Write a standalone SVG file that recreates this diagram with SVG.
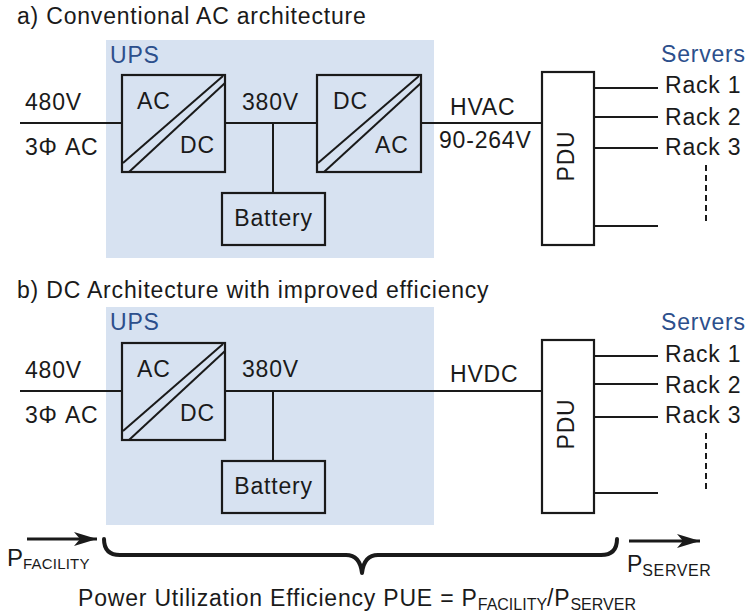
<svg xmlns="http://www.w3.org/2000/svg" width="747" height="613" viewBox="0 0 747 613">
<style>
.t{font-family:"Liberation Sans",Arial,sans-serif;font-size:23px;letter-spacing:0.8px;fill:#1a1a1a}
.blue{fill:#2c4f8c}
.sub{font-size:16px;letter-spacing:0px}
.ln{stroke:#1a1a1a;stroke-width:2;fill:none}
.box{fill:none;stroke:#1a1a1a;stroke-width:2.2}
.wbox{fill:#fff;stroke:#1a1a1a;stroke-width:2.2}
.ups{fill:#d7e2f1}
.dash{stroke:#1a1a1a;stroke-width:2;stroke-dasharray:6 4;fill:none}
.arr{stroke:#1a1a1a;stroke-width:3;fill:none}
.brace{stroke:#1a1a1a;stroke-width:4;fill:none;stroke-linecap:round;stroke-linejoin:round}
</style>
<defs>
<marker id="ah" markerUnits="userSpaceOnUse" markerWidth="26" markerHeight="16" refX="23" refY="7" orient="auto">
<path d="M0,0 L23,7 L0,14 L6,7 z" fill="#1a1a1a"/>
</marker>
</defs>

<text id="title-a" class="t" x="17" y="24">a) Conventional AC architecture</text>

<g id="section-a">
<g id="ups-a"><rect class="ups" x="106" y="40" width="328" height="218"/><text class="t blue" x="110" y="63">UPS</text></g>
<g id="conn-a">
<line class="ln" x1="20" y1="123" x2="122" y2="123"/>
<line class="ln" x1="225" y1="123" x2="317" y2="123"/>
<line class="ln" x1="273" y1="123" x2="273" y2="193"/>
<line class="ln" x1="421" y1="123" x2="542" y2="123"/>
<line class="ln" x1="594" y1="88" x2="658" y2="88"/>
<line class="ln" x1="594" y1="117" x2="658" y2="117"/>
<line class="ln" x1="594" y1="148" x2="658" y2="148"/>
<line class="ln" x1="594" y1="226" x2="658" y2="226"/>
<line class="dash" x1="706" y1="165" x2="706" y2="225"/>
</g>
<g id="acdc-a"><rect class="box" x="122" y="75" width="103" height="97"/>
<line class="ln" x1="123" y1="163" x2="223" y2="76"/><line class="ln" x1="129" y1="172" x2="225" y2="83"/>
<text class="t" x="137" y="109">AC</text><text class="t" x="180" y="153">DC</text></g>
<g id="dcac-a"><rect class="box" x="317" y="75" width="104" height="97"/>
<line class="ln" x1="318" y1="163" x2="419" y2="76"/><line class="ln" x1="324" y1="172" x2="421" y2="83"/>
<text class="t" x="333" y="109">DC</text><text class="t" x="375" y="153">AC</text></g>
<g id="battery-a"><rect class="box" x="222" y="193" width="103" height="52"/><text class="t" x="273.5" y="226" text-anchor="middle">Battery</text></g>
<g id="pdu-a"><rect class="wbox" x="542" y="72" width="52" height="173"/><text class="t" transform="translate(574,156) rotate(-90)" text-anchor="middle">PDU</text></g>
<g id="labels-a">
<text class="t" x="25" y="110">480V</text>
<text class="t" x="25" y="155">3Φ AC</text>
<text class="t" x="242" y="110">380V</text>
<text class="t" x="450" y="115">HVAC</text>
<text class="t" x="439" y="148">90-264V</text>
</g>
<g id="servers-a">
<text class="t blue" x="661" y="62">Servers</text>
<text class="t" x="665" y="93">Rack 1</text>
<text class="t" x="665" y="125">Rack 2</text>
<text class="t" x="665" y="155">Rack 3</text>
</g>
</g>

<text id="title-b" class="t" x="17" y="298">b) DC Architecture with improved efficiency</text>

<g id="section-b">
<g id="ups-b"><rect class="ups" x="106" y="307" width="328" height="218"/><text class="t blue" x="110" y="330">UPS</text></g>
<g id="conn-b">
<line class="ln" x1="20" y1="391" x2="122" y2="391"/>
<line class="ln" x1="225" y1="391" x2="542" y2="391"/>
<line class="ln" x1="273" y1="391" x2="273" y2="461"/>
<line class="ln" x1="594" y1="356" x2="658" y2="356"/>
<line class="ln" x1="594" y1="384" x2="658" y2="384"/>
<line class="ln" x1="594" y1="417" x2="658" y2="417"/>
<line class="ln" x1="594" y1="493" x2="658" y2="493"/>
<line class="dash" x1="706" y1="433" x2="706" y2="493"/>
</g>
<g id="acdc-b"><rect class="box" x="122" y="343" width="103" height="97"/>
<line class="ln" x1="123" y1="431" x2="223" y2="344"/><line class="ln" x1="129" y1="440" x2="225" y2="351"/>
<text class="t" x="137" y="377">AC</text><text class="t" x="180" y="421">DC</text></g>
<g id="battery-b"><rect class="box" x="222" y="461" width="103" height="52"/><text class="t" x="273.5" y="494" text-anchor="middle">Battery</text></g>
<g id="pdu-b"><rect class="wbox" x="542" y="340" width="52" height="173"/><text class="t" transform="translate(574,424) rotate(-90)" text-anchor="middle">PDU</text></g>
<g id="labels-b">
<text class="t" x="25" y="378">480V</text>
<text class="t" x="25" y="423">3Φ AC</text>
<text class="t" x="242" y="377">380V</text>
<text class="t" x="450" y="382">HVDC</text>
</g>
<g id="servers-b">
<text class="t blue" x="661" y="330">Servers</text>
<text class="t" x="665" y="362">Rack 1</text>
<text class="t" x="665" y="393">Rack 2</text>
<text class="t" x="665" y="423">Rack 3</text>
</g>
</g>

<g id="pue">
<line class="arr" x1="27" y1="539" x2="97" y2="539" marker-end="url(#ah)"/>
<line class="arr" x1="629" y1="541" x2="700" y2="541" marker-end="url(#ah)"/>
<path class="brace" d="M104,539 Q104,555 120,555 L346,555 Q360,555 362,573 Q364,555 378,555 L601,555 Q617,555 617,539"/>
<text class="t" x="7" y="566" style="font-size:24px;letter-spacing:0">P<tspan style="font-size:15px;letter-spacing:0.2px" dy="3">FACILITY</tspan></text>
<text class="t" x="627" y="572" style="font-size:23px;letter-spacing:0">P<tspan style="font-size:16px;letter-spacing:0.6px" dy="4">SERVER</tspan></text>
<text class="t" x="78" y="606">Power Utilization Efficiency PUE = P<tspan class="sub" dy="4">FACILITY</tspan><tspan dy="-4">/P</tspan><tspan class="sub" dy="4">SERVER</tspan></text>
</g>
</svg>
